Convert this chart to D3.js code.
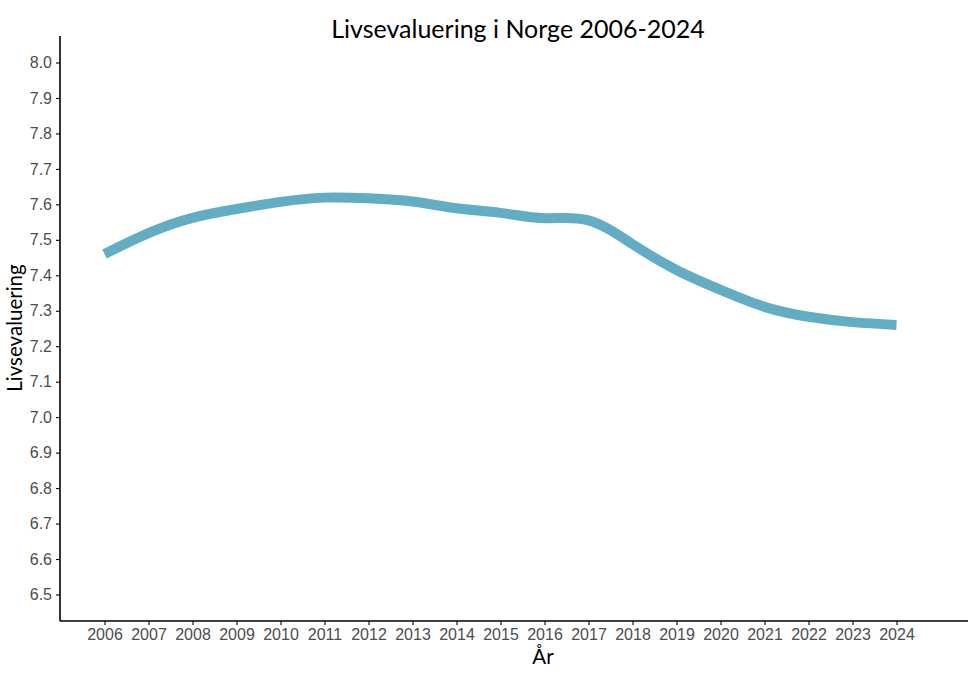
<!DOCTYPE html>
<html>
<head>
<meta charset="utf-8">
<script src="https://cdn.jsdelivr.net/npm/d3@7"></script>
<style>
  body { margin: 0; background: #fff; }
</style>
</head>
<body>
<div id="chart-area"></div>
<script>
// data
var years = [2006, 2007, 2008, 2009, 2010, 2011, 2012, 2013, 2014, 2015,
  2016, 2017, 2018, 2019, 2020, 2021, 2022, 2023, 2024]
var values = [7.460, 7.519, 7.562, 7.587, 7.607, 7.619, 7.617, 7.608, 7.589, 7.576,
  7.561, 7.555, 7.488, 7.415, 7.359, 7.311, 7.283, 7.268, 7.260]
var yTicks = [6.5, 6.6, 6.7, 6.8, 6.9, 7.0, 7.1, 7.2, 7.3, 7.4, 7.5, 7.6, 7.7, 7.8, 7.9, 8.0]

var data = years.map(function (d, i) {
  return { year: d, value: values[i] }
})

var width = 970, height = 673
var plotLeft = 60, plotRight = 968, plotTop = 36, plotBottom = 621

var svg = d3.select("#chart-area").append("svg")
  .attr("width", width)
  .attr("height", height)

var x = d3.scaleLinear().domain([2006, 2024]).range([104.5, 896.5])
var y = d3.scaleLinear().domain([6.5, 8.0]).range([594.5, 62.5])

// axes
var xAxis = d3.axisBottom(x).tickValues(years).tickFormat(d3.format("d")).tickSize(4).tickPadding(4)
var yAxis = d3.axisLeft(y).tickValues(yTicks).tickFormat(d3.format(".1f")).tickSize(4).tickPadding(4)

var gx = svg.append("g").attr("transform", "translate(0," + plotBottom + ")").call(xAxis)
var gy = svg.append("g").attr("transform", "translate(" + plotLeft + ",0)").call(yAxis)

;[gx, gy].forEach(function (g) {
  g.select(".domain").remove()
  g.selectAll(".tick line").attr("stroke", "#000").attr("stroke-width", 1.1)
  g.selectAll(".tick text")
    .attr("fill", "#4d4d4d")
    .style("font-family", "'Liberation Sans', Arial, sans-serif")
    .style("font-size", "16px")
})

svg.append("line")
  .attr("x1", plotLeft).attr("x2", plotRight)
  .attr("y1", plotBottom).attr("y2", plotBottom)
  .attr("stroke", "#000").attr("stroke-width", 1.6)
svg.append("line")
  .attr("x1", plotLeft).attr("x2", plotLeft)
  .attr("y1", plotTop).attr("y2", plotBottom)
  .attr("stroke", "#000").attr("stroke-width", 1.6)

// line
var line = d3.line()
  .x(function (d) { return x(d.year) })
  .y(function (d) { return y(d.value) })
  .curve(d3.curveNatural)

svg.append("path")
  .datum(data)
  .attr("d", line)
  .attr("fill", "none")
  .attr("stroke", "#63adc4")
  .attr("stroke-width", 10)

// titles
svg.append("text")
  .attr("x", 518).attr("y", 38)
  .attr("text-anchor", "middle")
  .style("font-family", "Lato, 'Open Sans', sans-serif")
  .style("font-size", "25px")
  .attr("fill", "#000")
  .text("Livsevaluering i Norge 2006-2024")

svg.append("text")
  .attr("x", 543).attr("y", 664)
  .attr("text-anchor", "middle")
  .style("font-family", "Lato, 'Open Sans', sans-serif")
  .style("font-size", "20.5px")
  .attr("fill", "#000")
  .text("År")

svg.append("text")
  .attr("transform", "translate(22,328) rotate(-90)")
  .attr("text-anchor", "middle")
  .style("font-family", "Lato, 'Open Sans', sans-serif")
  .style("font-size", "20.5px")
  .attr("fill", "#000")
  .text("Livsevaluering")
</script>
</body>
</html>
